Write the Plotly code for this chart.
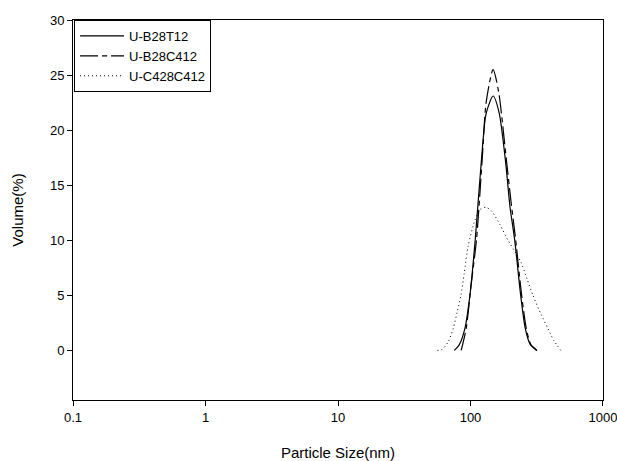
import plotly.graph_objects as go

# Volume distributions (%) against particle size (nm), one pair of lists per sample
b28t12_size = [75.4, 82.2, 90.8, 99.0, 108.5, 121.0, 131.2, 148.2, 164.4,
               183.4, 198.9, 215.7, 239.3, 259.1, 281.1, 317.3]
b28t12_vol = [0.0, 0.5, 2.0, 5.0, 10.0, 17.3, 21.5, 23.1, 21.6,
              17.3, 13.0, 10.0, 5.0, 2.0, 0.6, 0.0]

b28c412_size = [85.1, 92.8, 101.2, 110.9, 122.5, 131.2, 148.2, 163.0,
                186.6, 202.3, 219.5, 240.6, 263.7, 286.0, 317.3]
b28c412_vol = [0.0, 2.0, 6.0, 10.0, 17.3, 22.5, 25.5, 23.5,
               17.3, 13.5, 10.0, 5.5, 2.0, 0.5, 0.0]

c428c412_size = [56.2, 61.3, 68.0, 74.1, 79.4, 84.7, 89.7, 96.1, 107.9, 118.3,
                 131.2, 145.6, 167.2, 192.1, 220.7, 240.6, 266.9, 296.1,
                 340.1, 383.8, 425.9, 480.8]
c428c412_vol = [0.0, 0.1, 0.8, 2.0, 3.5, 5.0, 7.0, 9.5, 11.8, 12.8,
                13.0, 12.6, 11.4, 10.0, 8.8, 8.0, 6.5, 5.0,
                3.3, 2.0, 0.9, 0.0]

series_names = ["U-B28T12", "U-B28C412", "U-C428C412"]

x_ticks = [0.1, 1, 10, 100, 1000]
x_tick_text = ["0.1", "1", "10", "100", "1000"]
y_ticks = [0, 5, 10, 15, 20, 25, 30]

font_family = "Liberation Sans, Arial, sans-serif"

fig = go.Figure()
fig.add_trace(go.Scatter(
    x=b28t12_size, y=b28t12_vol, name=series_names[0], mode="lines",
    line=dict(color="black", width=1.2, shape="spline", smoothing=0.7),
))
fig.add_trace(go.Scatter(
    x=b28c412_size, y=b28c412_vol, name=series_names[1], mode="lines",
    line=dict(color="black", width=1.2, shape="spline", smoothing=0.7,
              dash="18px,4px,5px,4px"),
))
fig.add_trace(go.Scatter(
    x=c428c412_size, y=c428c412_vol, name=series_names[2], mode="lines",
    line=dict(color="black", width=1, shape="spline", smoothing=0.7,
              dash="1px,3px"),
))

fig.update_layout(
    width=617, height=461,
    margin=dict(l=73, r=14, t=20, b=61),
    paper_bgcolor="white", plot_bgcolor="white",
    font=dict(family=font_family, size=13, color="black"),
    showlegend=True,
    legend=dict(
        x=0.002, y=1, xanchor="left", yanchor="top",
        bgcolor="white", bordercolor="black", borderwidth=1,
        font=dict(size=13), tracegroupgap=0, itemwidth=44,
    ),
)

fig.update_xaxes(
    type="log", range=[-1.0002, 3.0002], automargin=False,
    tickvals=x_ticks, ticktext=x_tick_text, ticklabeloverflow="allow",
    ticks="outside", ticklen=5, tickwidth=1, tickcolor="black",
    showline=True, linecolor="black", linewidth=1, mirror=True,
    showgrid=False, zeroline=False,
    title=dict(text="Particle Size(nm)", font=dict(size=15), standoff=24),
)
fig.update_yaxes(
    range=[-4.5, 30], automargin=False,
    tickvals=y_ticks,
    ticks="outside", ticklen=5, tickwidth=1, tickcolor="black",
    showline=True, linecolor="black", linewidth=1, mirror=True,
    showgrid=False, zeroline=False,
    title=dict(text="Volume(%)", font=dict(size=15), standoff=22),
)

fig.write_html("out.html")
